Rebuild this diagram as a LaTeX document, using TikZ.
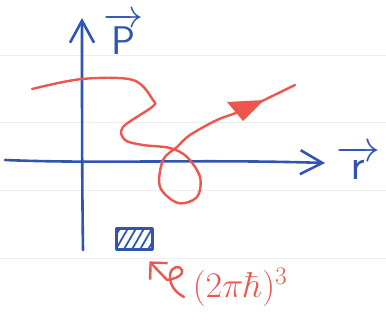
\RequirePackage{fix-cm}
\documentclass[tikz,border=0pt]{standalone}
\usetikzlibrary{arrows.meta,patterns.meta,calc}
\definecolor{pblue}{RGB}{48,84,178}
\definecolor{pred}{RGB}{236,86,76}
\tikzset{sketch/.style={x=1pt,y=-1pt,line cap=round,line join=round}}
\tikzset{bluepen/.style={pblue,line width=2.6pt},
         redpen/.style={pred,line width=2.4pt},
         barb/.style={-{Straight Barb[length=22pt,width=24pt]}},
         cellbox/.style={draw=pblue,line width=2.4pt,inner sep=0pt,
                         minimum width=36pt,minimum height=21pt,
                         pattern={Lines[angle=60,distance=7pt,line width=1.8pt]},
                         pattern color=pblue}}

\begin{document}
\begin{tikzpicture}[sketch]
    \useasboundingbox (0,0) rectangle (386,324);
    % ruled paper
    \foreach \y in {55,122,190,258} \draw[black!7,line width=0.8pt] (0,\y) -- (386,\y);
    % axes
    \draw[bluepen,barb] (83,250) .. controls (82,180) and (82,100) .. (82,18) coordinate (ptip);
    \draw[bluepen,barb] (5,160) .. controls (100,164) and (200,159) .. (325,163) coordinate (rtip);
    \node[pblue,font=\fontsize{40}{40}\selectfont,inner sep=0pt] (plabel) at (123,34) {$\overrightarrow{\mathsf{P}}$};
    \node[pblue,font=\fontsize{44}{44}\selectfont,inner sep=0pt] (rlabel) at (358,162) {$\overrightarrow{\mathsf{r}}$};
    % trajectory
    \draw[redpen] plot[smooth,tension=0.55] coordinates {(32,89) (82,79) (133,80) (153,100) (152,107)
        (123,127) (125,140) (143,145) (170,148) (187,157) (200,177) (197,197) (178,203)
        (160,187) (163,160) (177,147) (190,135) (217,120) (243,110) (295,85)};
    \fill[pred] (227,102) -- (264,100) -- (243,121) -- cycle;
    % phase space cell
    \node[cellbox] (cell) at (134.5,239) {};
    \node[pred,font=\fontsize{36}{36}\selectfont,inner sep=0pt] (vol) at (240,287) {$(2\pi\hbar)^3$};
    \coordinate (tail) at (184,297);
    \draw[redpen,-{Straight Barb[length=12pt,width=24pt]}] (tail)
        .. controls (176,293) and (169,285) .. (170,275)
        .. controls (171,266) and (180,265) .. (182,270)
        .. controls (184,275) and (175,279) .. (167,280)
        -- ($(cell.south east)+(-4,11)$);
\end{tikzpicture}
\end{document}
